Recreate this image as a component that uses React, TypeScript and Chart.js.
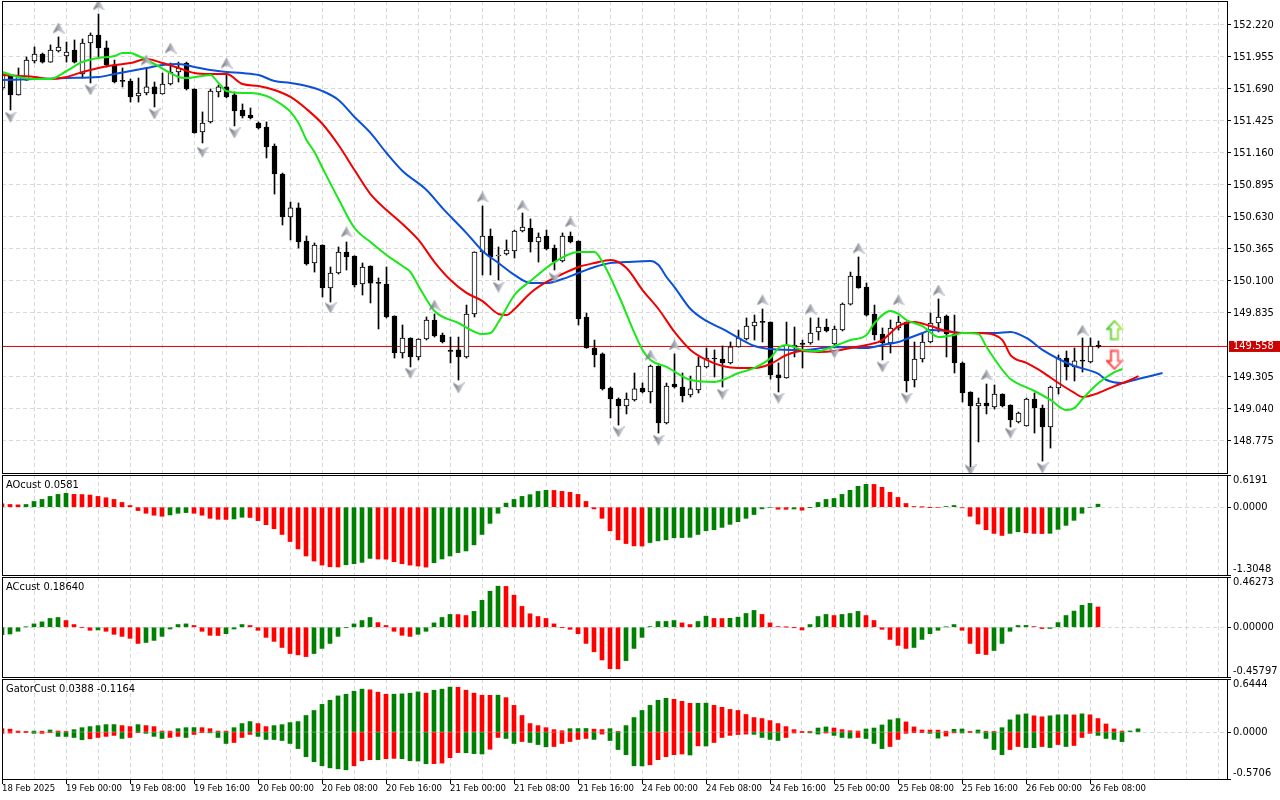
import React, { useEffect, useRef } from "react";
import { Chart, registerables } from "chart.js";

Chart.register(...registerables);

const FONT = "'Liberation Sans Narrow', 'DejaVu Sans Condensed', 'Liberation Sans', Arial, sans-serif";
const GRID = "#d8d8d8";
const GREEN = "#008000";
const RED = "#ff0000";
const JAW_COLOR = "#0a50d8";
const TEETH_COLOR = "#f00000";
const LIPS_COLOR = "#18e818";

// ---------- USDJPY H1 candles (bar index 0 = 18 Feb 2025 16:00) ----------
const opens = [
  151.698, 151.806, 151.641, 151.764, 151.922, 151.980, 151.913, 152.005, 151.963, 152.013,
  151.814, 152.071, 152.137, 152.030, 151.889, 151.756, 151.756, 151.632, 151.657, 151.707,
  151.649, 151.731, 151.831, 151.905, 151.690, 151.334, 151.417, 151.665, 151.707, 151.641,
  151.516, 151.475, 151.408, 151.375, 151.218, 150.986, 150.630, 150.705, 150.431, 150.249,
  150.398, 150.042, 150.166, 150.340, 150.307, 150.075, 150.224, 150.083, 150.075, 149.810,
  149.504, 149.628, 149.471, 149.620, 149.777, 149.653, 149.520, 149.529, 149.471, 149.827,
  150.340, 150.473, 150.307, 150.324, 150.349, 150.514, 150.539, 150.423, 150.473, 150.373,
  150.266, 150.473, 150.431, 149.802, 149.545, 149.496, 149.214, 149.123, 149.065, 149.115,
  149.214, 149.181, 149.396, 148.924, 149.247, 149.222, 149.156, 149.197, 149.388, 149.454,
  149.454, 149.421, 149.554, 149.620, 149.727, 149.760, 149.760, 149.322, 149.297, 149.554,
  149.578, 149.587, 149.678, 149.719, 149.578, 149.694, 149.909, 150.141, 150.050, 149.827,
  149.661, 149.587, 149.711, 149.760, 149.280, 149.454, 149.595, 149.752, 149.810, 149.661,
  149.421, 149.181, 149.065, 149.090, 149.057, 149.164, 149.073, 148.932, 148.899, 149.123,
  149.048, 148.891, 149.214, 149.462, 149.388, 149.438, 149.429, 149.560,
];
const highs = [
  151.830, 151.808, 151.864, 151.955, 152.038, 151.988, 152.055, 152.121, 152.079, 152.096,
  152.104, 152.154, 152.311, 152.087, 151.930, 151.864, 151.773, 151.781, 151.864, 151.748,
  151.822, 151.905, 151.913, 151.913, 151.692, 151.500, 151.690, 151.723, 151.822, 151.665,
  151.566, 151.533, 151.417, 151.417, 151.235, 150.994, 150.754, 150.746, 150.473, 150.415,
  150.400, 150.216, 150.382, 150.423, 150.309, 150.249, 150.226, 150.125, 150.216, 149.812,
  149.736, 149.630, 149.622, 149.802, 149.827, 149.669, 149.636, 149.636, 149.901, 150.342,
  150.721, 150.531, 150.382, 150.440, 150.522, 150.663, 150.614, 150.498, 150.522, 150.398,
  150.498, 150.506, 150.433, 149.835, 149.611, 149.504, 149.222, 149.131, 149.173, 149.338,
  149.255, 149.404, 149.398, 149.255, 149.496, 149.338, 149.313, 149.471, 149.545, 149.529,
  149.562, 149.595, 149.694, 149.794, 149.818, 149.868, 149.762, 149.421, 149.760, 149.719,
  149.611, 149.794, 149.794, 149.785, 149.727, 149.918, 150.174, 150.299, 150.083, 149.901,
  149.711, 149.777, 149.810, 149.762, 149.595, 149.669, 149.835, 149.951, 149.818, 149.818,
  149.429, 149.183, 149.131, 149.247, 149.239, 149.166, 149.075, 149.015, 149.131, 149.173,
  149.073, 149.230, 149.487, 149.520, 149.545, 149.628, 149.628, 149.603,
];
const lows = [
  151.682, 151.516, 151.639, 151.762, 151.905, 151.905, 151.911, 151.996, 151.913, 151.905,
  151.781, 151.740, 151.955, 151.872, 151.740, 151.707, 151.582, 151.582, 151.641, 151.541,
  151.647, 151.723, 151.748, 151.682, 151.324, 151.243, 151.408, 151.624, 151.616, 151.384,
  151.450, 151.442, 151.359, 151.119, 150.820, 150.564, 150.440, 150.373, 150.232, 150.174,
  149.968, 149.926, 150.158, 150.191, 150.050, 149.984, 149.918, 149.703, 149.794, 149.462,
  149.462, 149.388, 149.446, 149.611, 149.636, 149.587, 149.421, 149.280, 149.462, 149.802,
  150.150, 150.150, 150.108, 150.315, 150.290, 150.506, 150.340, 150.257, 150.357, 150.191,
  150.257, 150.415, 149.736, 149.543, 149.388, 149.197, 148.966, 148.907, 148.999, 149.106,
  149.173, 149.090, 148.841, 148.916, 149.214, 149.098, 149.139, 149.173, 149.380, 149.305,
  149.222, 149.413, 149.552, 149.611, 149.611, 149.595, 149.288, 149.181, 149.295, 149.471,
  149.380, 149.576, 149.611, 149.678, 149.545, 149.686, 149.901, 150.040, 149.810, 149.611,
  149.446, 149.504, 149.694, 149.181, 149.222, 149.429, 149.587, 149.678, 149.471, 149.338,
  149.098, 148.560, 148.767, 148.999, 149.040, 149.057, 148.891, 148.924, 148.897, 148.841,
  148.609, 148.717, 149.164, 149.280, 149.272, 149.346, 149.421, 149.545,
];
const closes = [
  151.814, 151.641, 151.797, 151.930, 151.980, 151.913, 152.013, 152.038, 151.996, 151.913,
  152.071, 152.137, 152.030, 151.889, 151.748, 151.753, 151.624, 151.657, 151.707, 151.649,
  151.731, 151.831, 151.864, 151.690, 151.326, 151.408, 151.673, 151.707, 151.624, 151.508,
  151.466, 151.450, 151.367, 151.210, 150.986, 150.630, 150.705, 150.423, 150.241, 150.398,
  150.042, 150.166, 150.340, 150.299, 150.067, 150.216, 150.083, 150.080, 149.802, 149.504,
  149.628, 149.471, 149.620, 149.777, 149.645, 149.595, 149.517, 149.471, 149.827, 150.340,
  150.473, 150.299, 150.315, 150.357, 150.514, 150.547, 150.423, 150.464, 150.365, 150.257,
  150.473, 150.423, 149.785, 149.545, 149.487, 149.206, 149.123, 149.065, 149.123, 149.206,
  149.181, 149.396, 148.924, 149.230, 149.222, 149.148, 149.206, 149.396, 149.462, 149.457,
  149.421, 149.554, 149.628, 149.727, 149.760, 149.757, 149.322, 149.297, 149.570, 149.570,
  149.575, 149.669, 149.719, 149.686, 149.702, 149.909, 150.141, 150.042, 149.818, 149.653,
  149.587, 149.711, 149.760, 149.272, 149.454, 149.595, 149.752, 149.802, 149.661, 149.421,
  149.173, 149.065, 149.090, 149.065, 149.164, 149.065, 148.949, 149.007, 149.123, 149.048,
  148.891, 149.222, 149.462, 149.388, 149.438, 149.436, 149.562, 149.558,
];

const currentPrice = 149.558;

// ---------- Alligator lines: [bar index, price] (shifted forward past last bar) ----------
const jawPts = [
  [0, 151.764], [4, 151.772], [8, 151.781], [12, 151.789], [14, 151.814], [16, 151.839], [18, 151.864],
  [20, 151.889], [22, 151.897], [24, 151.872], [26, 151.847], [28, 151.831], [30, 151.822], [32, 151.806],
  [34, 151.756], [36, 151.740], [38, 151.715], [40, 151.673], [42, 151.599], [44, 151.458], [46, 151.326],
  [48, 151.160], [50, 151.011], [53, 150.854], [55, 150.704], [58, 150.497], [60, 150.349], [62, 150.249],
  [64, 150.150], [66, 150.083], [68, 150.083], [70, 150.116], [72, 150.166], [74, 150.216], [76, 150.249],
  [78, 150.257], [81, 150.266], [82, 150.232], [83, 150.133], [84, 150.050], [86, 149.868], [88, 149.769],
  [90, 149.703], [92, 149.628], [94, 149.562], [96, 149.537], [100, 149.529], [104, 149.554], [108, 149.545],
  [110, 149.570], [112, 149.595], [113, 149.620], [115, 149.669], [116, 149.694], [118, 149.686],
  [120, 149.669], [124, 149.669], [126, 149.678], [128, 149.628], [130, 149.529], [132, 149.454],
  [134, 149.396], [137, 149.330], [138, 149.280], [140, 149.255], [141, 149.272], [143, 149.305], [145, 149.338],
];
const teethPts = [
  [0, 151.806], [4, 151.789], [6, 151.773], [8, 151.789], [10, 151.831], [12, 151.864], [14, 151.889],
  [16, 151.905], [18, 151.938], [20, 151.905], [22, 151.864], [24, 151.822], [26, 151.814], [28, 151.814],
  [30, 151.731], [32, 151.715], [34, 151.682], [36, 151.624], [38, 151.524], [40, 151.400], [42, 151.226],
  [44, 151.019], [46, 150.820], [48, 150.688], [50, 150.572], [52, 150.440], [54, 150.257], [56, 150.108],
  [58, 150.001], [60, 149.934], [62, 149.827], [63, 149.818], [64, 149.868], [66, 150.001], [68, 150.092],
  [70, 150.158], [72, 150.216], [74, 150.249], [76, 150.274], [78, 150.208], [80, 150.025], [82, 149.868],
  [84, 149.678], [86, 149.529], [88, 149.446], [90, 149.396], [92, 149.380], [94, 149.380], [96, 149.413],
  [98, 149.487], [100, 149.520], [102, 149.512], [104, 149.520], [106, 149.545], [108, 149.570],
  [110, 149.611], [111, 149.669], [112, 149.727], [114, 149.760], [116, 149.727], [118, 149.686],
  [120, 149.669], [122, 149.669], [124, 149.653], [125, 149.611], [126, 149.487], [128, 149.421],
  [130, 149.346], [132, 149.255], [134, 149.173], [135, 149.139], [137, 149.173], [139, 149.230],
  [141, 149.280], [142, 149.313],
];
const lipsPts = [
  [0, 151.831], [2, 151.789], [4, 151.773], [6, 151.773], [8, 151.839], [10, 151.914], [12, 151.947],
  [14, 151.963], [15, 151.988], [16, 151.988], [17, 151.963], [19, 151.897], [21, 151.822], [22, 151.789],
  [23, 151.781], [25, 151.798], [26, 151.806], [27, 151.740], [28, 151.673], [30, 151.657], [31, 151.657],
  [33, 151.632], [34, 151.599], [36, 151.500], [37, 151.408], [38, 151.268], [39, 151.168], [40, 151.036],
  [42, 150.779], [44, 150.539], [46, 150.423], [48, 150.315], [50, 150.224], [51, 150.174], [52, 150.059],
  [54, 149.852], [57, 149.752], [60, 149.661], [61, 149.669], [62, 149.760], [64, 149.984], [66, 150.100],
  [69, 150.257], [72, 150.340], [74, 150.340], [75, 150.257], [77, 149.984], [79, 149.669], [80, 149.529],
  [81, 149.446], [83, 149.388], [86, 149.280], [89, 149.264], [90, 149.280], [92, 149.338], [94, 149.380],
  [96, 149.462], [97, 149.545], [98, 149.570], [100, 149.529], [102, 149.520], [104, 149.562],
  [106, 149.611], [108, 149.653], [109, 149.752], [111, 149.852], [112, 149.827], [113, 149.777],
  [115, 149.727], [117, 149.636], [119, 149.653], [120, 149.669], [122, 149.661], [123, 149.554],
  [125, 149.363], [126, 149.289], [129, 149.189], [131, 149.115], [133, 149.032], [134, 149.049],
  [135, 149.123], [137, 149.255], [139, 149.346], [140, 149.371],
];

// ---------- Fractals ----------
const fractalUpBars = [7, 12, 18, 21, 28, 43, 54, 60, 65, 71, 81, 84, 95, 101, 107, 112, 117, 123, 135];
const fractalUpPrices = [152.195, 152.386, 151.930, 152.029, 151.905, 150.506, 149.901, 150.796, 150.729, 150.589, 149.487, 149.570, 149.943, 149.868, 150.373, 149.943, 150.025, 149.322, 149.694];
const fractalDownBars = [1, 11, 19, 25, 29, 41, 51, 57, 62, 69, 77, 82, 90, 97, 104, 110, 113, 121, 126, 130];
const fractalDownPrices = [151.458, 151.682, 151.483, 151.168, 151.326, 149.877, 149.338, 149.214, 150.050, 150.125, 148.850, 148.783, 149.164, 149.131, 149.504, 149.388, 149.131, 148.535, 148.841, 148.552];

// ---------- Signal arrows ----------
const signalBars = [139];
const signalUpPrices = [149.694];
const signalDownPrices = [149.446];

// ---------- Price axis ----------
const priceTicks = [148.775, 149.040, 149.305, 149.835, 150.100, 150.365, 150.630, 150.895, 151.160, 151.425, 151.690, 151.955, 152.220];

// ---------- Time axis ----------
const timeTickBars = [0, 8, 16, 24, 32, 40, 48, 56, 64, 72, 80, 88, 96, 104, 112, 120, 128, 136];
const timeTickLabels = [
  "18 Feb 2025", "19 Feb 00:00", "19 Feb 08:00", "19 Feb 16:00", "20 Feb 00:00", "20 Feb 08:00",
  "20 Feb 16:00", "21 Feb 00:00", "21 Feb 08:00", "21 Feb 16:00", "24 Feb 00:00", "24 Feb 08:00",
  "24 Feb 16:00", "25 Feb 00:00", "25 Feb 08:00", "25 Feb 16:00", "26 Feb 00:00", "26 Feb 08:00",
];

// ---------- AO custom ----------
const aoValues = [
  0.065, 0.052, 0.045, 0.052, 0.110, 0.149, 0.207, 0.246, 0.266, 0.246,
  0.243, 0.233, 0.207, 0.181, 0.149, 0.091, 0.032, -0.065, -0.117, -0.155,
  -0.175, -0.149, -0.117, -0.104, -0.117, -0.155, -0.214, -0.233, -0.236, -0.227,
  -0.194, -0.198, -0.259, -0.337, -0.415, -0.525, -0.661, -0.803, -0.939, -1.036,
  -1.114, -1.146, -1.150, -1.108, -1.088, -1.062, -0.985, -0.997, -1.000, -1.049,
  -1.088, -1.114, -1.133, -1.153, -1.069, -0.997, -0.939, -0.874, -0.842, -0.725,
  -0.525, -0.311, -0.117, 0.078, 0.149, 0.207, 0.240, 0.304, 0.324, 0.322,
  0.304, 0.285, 0.246, 0.110, -0.032, -0.214, -0.453, -0.628, -0.700, -0.745,
  -0.748, -0.680, -0.648, -0.628, -0.589, -0.585, -0.580, -0.525, -0.453, -0.434,
  -0.389, -0.330, -0.279, -0.214, -0.142, -0.032, -0.010, -0.039, -0.041, -0.035,
  -0.058, -0.005, 0.091, 0.149, 0.168, 0.246, 0.324, 0.402, 0.440, 0.438,
  0.382, 0.285, 0.188, 0.071, 0.013, 0.002, -0.004, -0.010, 0.013, 0.032,
  -0.013, -0.175, -0.324, -0.434, -0.505, -0.544, -0.505, -0.473, -0.492, -0.505,
  -0.508, -0.503, -0.427, -0.350, -0.253, -0.117, -0.010, 0.0581,
];
const aoMin = -1.3048;
const aoMax = 0.6191;

// ---------- AC custom ----------
const acValues = [
  -0.068, -0.062, -0.037, 0.003, 0.031, 0.050, 0.081, 0.090, 0.062, 0.025,
  -0.003, -0.028, -0.025, -0.037, -0.065, -0.084, -0.102, -0.149, -0.140, -0.121,
  -0.084, -0.016, 0.025, 0.031, 0.016, -0.037, -0.074, -0.076, -0.059, -0.016,
  0.025, 0.016, -0.028, -0.093, -0.130, -0.186, -0.242, -0.254, -0.270, -0.242,
  -0.195, -0.149, -0.084, -0.003, 0.031, 0.062, 0.090, 0.043, 0.016, -0.037,
  -0.074, -0.084, -0.065, -0.037, 0.040, 0.090, 0.118, 0.117, 0.108, 0.146,
  0.248, 0.332, 0.378, 0.376, 0.295, 0.192, 0.124, 0.099, 0.081, 0.031,
  -0.002, -0.019, -0.059, -0.149, -0.226, -0.301, -0.381, -0.383, -0.307, -0.195,
  -0.093, 0.006, 0.053, 0.054, 0.062, 0.040, 0.025, 0.053, 0.102, 0.081,
  0.080, 0.082, 0.093, 0.127, 0.155, 0.118, 0.040, 0.006, 0.001, -0.002,
  -0.025, 0.025, 0.099, 0.118, 0.108, 0.118, 0.127, 0.146, 0.108, 0.062,
  -0.019, -0.112, -0.167, -0.195, -0.186, -0.112, -0.059, -0.028, 0.003, 0.025,
  -0.028, -0.149, -0.242, -0.251, -0.214, -0.149, -0.037, 0.016, 0.017, 0.006,
  -0.012, -0.011, 0.043, 0.108, 0.149, 0.202, 0.220, 0.1864,
];
const acMin = -0.45797;
const acMax = 0.46273;

// ---------- Gator custom ----------
const gatorUpper = [
  0.041, 0.035, 0.012, 0.008, 0.012, 0.010, 0.025, 0.012, 0.004, 0.029,
  0.053, 0.066, 0.078, 0.090, 0.091, 0.078, 0.066, 0.090, 0.078, 0.066,
  0.012, 0.011, 0.041, 0.053, 0.054, 0.053, 0.041, 0.012, 0.011, 0.053,
  0.103, 0.127, 0.103, 0.066, 0.078, 0.090, 0.115, 0.127, 0.201, 0.262,
  0.336, 0.386, 0.439, 0.459, 0.496, 0.521, 0.513, 0.484, 0.459, 0.460,
  0.464, 0.472, 0.488, 0.472, 0.508, 0.521, 0.546, 0.544, 0.508, 0.472,
  0.447, 0.446, 0.448, 0.418, 0.324, 0.201, 0.103, 0.078, 0.053, 0.029,
  0.016, 0.041, 0.042, 0.043, 0.035, 0.030, 0.041, 0.004, 0.078, 0.176,
  0.262, 0.324, 0.386, 0.410, 0.398, 0.373, 0.349, 0.350, 0.351, 0.324,
  0.300, 0.275, 0.262, 0.213, 0.176, 0.164, 0.139, 0.103, 0.066, 0.029,
  0.004, 0.002, 0.049, 0.062, 0.049, 0.029, 0.016, 0.012, 0.037, 0.049,
  0.086, 0.148, 0.164, 0.123, 0.062, 0.025, 0.024, 0.023, 0.010, 0.033,
  0.037, 0.008, 0.025, 0.004, 0.003, 0.053, 0.148, 0.209, 0.221, 0.197,
  0.185, 0.197, 0.209, 0.210, 0.208, 0.221, 0.209, 0.164, 0.098, 0.037,
  0.012, 0.013, 0.0388,
];
const gatorLower = [
  -0.016, -0.012, -0.008, -0.005, -0.016, -0.016, -0.008, -0.053, -0.054, -0.066,
  -0.094, -0.082, -0.066, -0.053, -0.041, -0.078, -0.066, -0.008, -0.016, -0.053,
  -0.078, -0.066, -0.053, -0.066, -0.029, -0.008, -0.010, -0.066, -0.139, -0.127,
  -0.066, -0.029, -0.053, -0.090, -0.091, -0.103, -0.139, -0.201, -0.300, -0.360,
  -0.410, -0.435, -0.447, -0.459, -0.410, -0.349, -0.336, -0.337, -0.324, -0.320,
  -0.324, -0.349, -0.353, -0.385, -0.384, -0.377, -0.312, -0.250, -0.252, -0.262,
  -0.267, -0.209, -0.066, -0.078, -0.139, -0.115, -0.127, -0.152, -0.180, -0.176,
  -0.139, -0.115, -0.090, -0.078, -0.090, -0.025, -0.103, -0.213, -0.275, -0.410,
  -0.412, -0.398, -0.336, -0.300, -0.275, -0.267, -0.279, -0.168, -0.170, -0.127,
  -0.066, -0.041, -0.030, -0.025, -0.028, -0.066, -0.090, -0.103, -0.066, -0.012,
  -0.008, -0.010, -0.025, -0.012, -0.041, -0.066, -0.074, -0.066, -0.078, -0.139,
  -0.201, -0.176, -0.090, -0.016, -0.008, -0.004, -0.016, -0.074, -0.049, -0.010,
  -0.012, -0.005, -0.012, -0.078, -0.213, -0.275, -0.213, -0.176, -0.189, -0.190,
  -0.176, -0.189, -0.152, -0.176, -0.164, -0.066, -0.016, -0.041, -0.078, -0.090,
  -0.1164,
];
const gatorMin = -0.5706;
const gatorMax = 0.6444;

// ---------- geometry of the MT-style window ----------
const W = 1280;
const AXIS_W = 53;
const BAR_PX = 8;
const PLOT_W = W - AXIS_W - 2; // 1225
const X_RANGE = PLOT_W / BAR_PX;
const MAIN_X_MIN = -0.0625;
const SUB_X_MIN = 0;
const MAIN_Y_MAX = 152.4187;
const MAIN_Y_MIN = 148.51;
const gridBars = Array.from({ length: 39 }, (_, k) => k * 4);

const framePlugin = {
  id: "mtFrame",
  afterDraw(chart: any) {
    const { ctx, chartArea: a } = chart;
    ctx.save();
    ctx.strokeStyle = "#000";
    ctx.lineWidth = 1;
    ctx.setLineDash([]);
    ctx.strokeRect(a.left + 0.5, a.top + 0.5, a.right - a.left, a.bottom - a.top);
    ctx.restore();
  },
};

function zeroPadding(s: any) {
  s.paddingTop = 0;
  s.paddingBottom = 0;
  s.paddingLeft = 0;
  s.paddingRight = 0;
}

function makeFractalImg(up: boolean) {
  const c = document.createElement("canvas");
  c.width = 12;
  c.height = 11;
  const g = c.getContext("2d") as CanvasRenderingContext2D;
  g.translate(6, 5.5);
  if (!up) g.scale(1, -1);
  g.beginPath();
  g.moveTo(0, -5);
  g.lineTo(5.5, 5);
  g.lineTo(0, 2);
  g.lineTo(-5.5, 5);
  g.closePath();
  const grad = g.createLinearGradient(-5, 0, 5, 0);
  grad.addColorStop(0, "#6a6f7a");
  grad.addColorStop(0.5, "#a4a8b2");
  grad.addColorStop(1, "#e6e8ef");
  g.fillStyle = grad;
  g.fill();
  g.strokeStyle = "rgba(120,125,135,0.5)";
  g.lineWidth = 0.8;
  g.stroke();
  return c;
}

function makeSignalImg(up: boolean) {
  const c = document.createElement("canvas");
  c.width = 18;
  c.height = 21;
  const g = c.getContext("2d") as CanvasRenderingContext2D;
  if (!up) {
    g.translate(0, 21);
    g.scale(1, -1);
  }
  g.beginPath();
  g.moveTo(9, 1.5);
  g.lineTo(16.5, 9.5);
  g.lineTo(12.5, 9.5);
  g.lineTo(12.5, 19.5);
  g.lineTo(5.5, 19.5);
  g.lineTo(5.5, 9.5);
  g.lineTo(1.5, 9.5);
  g.closePath();
  g.fillStyle = "#ffffff";
  g.fill();
  const grad = g.createLinearGradient(0, 0, 18, 0);
  if (up) {
    grad.addColorStop(0, "#3cc83c");
    grad.addColorStop(1, "#c8f05a");
  } else {
    grad.addColorStop(0, "#ff2a2a");
    grad.addColorStop(1, "#ff8a8a");
  }
  g.strokeStyle = grad;
  g.lineWidth = 2;
  g.lineJoin = "miter";
  g.stroke();
  return c;
}

function trendColors(values: number[], firstUp: boolean, useAbs: boolean) {
  return values.map((v, i) => {
    if (i === 0) return firstUp ? GREEN : RED;
    const a = useAbs ? Math.abs(v) : v;
    const b = useAbs ? Math.abs(values[i - 1]) : values[i - 1];
    return a > b ? GREEN : RED;
  });
}

const baseOptions = {
  responsive: false,
  maintainAspectRatio: false,
  animation: false,
  devicePixelRatio: 1,
  events: [],
  plugins: { legend: { display: false }, tooltip: { enabled: false }, title: { display: false } },
};

function xScale(min: number, showLabels: boolean) {
  return {
    type: "linear",
    min,
    max: min + X_RANGE,
    offset: false,
    bounds: "data",
    afterBuildTicks: (s: any) => {
      s.ticks = gridBars.map((v) => ({ value: v }));
    },
    afterFit: (s: any) => {
      s.height = showLabels ? 21 : 0;
      zeroPadding(s);
    },
    ticks: showLabels
      ? {
          display: true,
          autoSkip: false,
          maxRotation: 0,
          minRotation: 0,
          align: "start",
          padding: -1,
          color: "#000",
          font: { family: FONT, size: 9.5, lineHeight: 1.1 },
          callback: (v: any) => {
            const k = timeTickBars.indexOf(Number(v));
            return k >= 0 ? timeTickLabels[k] : "";
          },
        }
      : { display: false },
    grid: {
      offset: false,
      color: GRID,
      lineWidth: 1,
      drawTicks: showLabels,
      tickLength: 5,
      tickWidth: 1,
      tickColor: (c: any) => (c.tick && timeTickBars.indexOf(c.tick.value) >= 0 ? "#000" : "rgba(0,0,0,0)"),
    },
    border: { display: false, dash: [4, 3] },
  };
}

function subYScale(min: number, max: number, decimals: number) {
  return {
    type: "linear",
    position: "right",
    min,
    max,
    afterFit: (s: any) => {
      s.width = AXIS_W;
      zeroPadding(s);
    },
    afterBuildTicks: (s: any) => {
      s.ticks = [{ value: min }, { value: 0 }, { value: max }];
    },
    ticks: {
      autoSkip: false,
      padding: 2,
      color: "#000",
      font: { family: FONT, size: 11, lineHeight: 1 },
      callback: (v: any) => {
        const t = Number(v).toFixed(decimals);
        if (v === max) return ["", t];
        if (v === min) return [t, ""];
        return t;
      },
    },
    grid: {
      color: (c: any) => (c.tick && c.tick.value === 0 ? GRID : "rgba(0,0,0,0)"),
      tickColor: "#000",
      tickLength: 4,
      drawTicks: true,
    },
    border: { display: false, dash: [4, 3] },
  };
}

export default function App() {
  const mainRef = useRef<HTMLCanvasElement>(null);
  const aoRef = useRef<HTMLCanvasElement>(null);
  const acRef = useRef<HTMLCanvasElement>(null);
  const gatorRef = useRef<HTMLCanvasElement>(null);

  useEffect(() => {
    document.body.style.margin = "0";
    document.body.style.background = "#fff";
    const charts: Chart[] = [];

    const upImg = makeFractalImg(true);
    const downImg = makeFractalImg(false);
    const sigUp = makeSignalImg(true);
    const sigDown = makeSignalImg(false);

    const idx = opens.map((_, i) => i);
    const bodyColors = idx.map((i) => {
      const d = closes[i] - opens[i];
      if (Math.abs(d) < 0.004) return "#000";
      return d > 0 ? "#fff" : "#000";
    });

    const toXY = (pts: number[][]) => pts.map(([x, y]) => ({ x, y }));

    // ---------- main price chart ----------
    charts.push(
      new Chart(mainRef.current as HTMLCanvasElement, {
        type: "bar",
        data: {
          datasets: [
            {
              type: "line",
              label: "signal up",
              data: signalBars.map((b, k) => ({ x: b, y: signalUpPrices[k] })),
              showLine: false,
              pointStyle: sigUp,
              pointRadius: 6,
              order: 0,
            },
            {
              type: "line",
              label: "signal down",
              data: signalBars.map((b, k) => ({ x: b, y: signalDownPrices[k] })),
              showLine: false,
              pointStyle: sigDown,
              pointRadius: 6,
              order: 0,
            },
            {
              type: "line",
              label: "fractal up",
              data: fractalUpBars.map((b, k) => ({ x: b, y: fractalUpPrices[k] })),
              showLine: false,
              pointStyle: upImg,
              pointRadius: 5,
              order: 1,
            },
            {
              type: "line",
              label: "fractal down",
              data: fractalDownBars.map((b, k) => ({ x: b, y: fractalDownPrices[k] })),
              showLine: false,
              pointStyle: downImg,
              pointRadius: 5,
              order: 1,
            },
            {
              type: "line",
              label: "lips",
              data: toXY(lipsPts),
              borderColor: LIPS_COLOR,
              borderWidth: 2,
              pointRadius: 0,
              cubicInterpolationMode: "monotone",
              order: 2,
            },
            {
              type: "line",
              label: "teeth",
              data: toXY(teethPts),
              borderColor: TEETH_COLOR,
              borderWidth: 2,
              pointRadius: 0,
              cubicInterpolationMode: "monotone",
              order: 3,
            },
            {
              type: "line",
              label: "jaw",
              data: toXY(jawPts),
              borderColor: JAW_COLOR,
              borderWidth: 2,
              pointRadius: 0,
              cubicInterpolationMode: "monotone",
              order: 4,
            },
            {
              type: "bar",
              label: "body",
              data: idx.map((i) => ({ x: i, y: [opens[i], closes[i]] })),
              backgroundColor: bodyColors,
              borderColor: "#000",
              borderWidth: 1,
              borderSkipped: false,
              barThickness: 5,
              minBarLength: 1,
              grouped: false,
              order: 5,
            },
            {
              type: "bar",
              label: "wick",
              data: idx.map((i) => ({ x: i, y: [lows[i], highs[i]] })),
              backgroundColor: "#000",
              borderWidth: 0,
              barThickness: 1,
              grouped: false,
              order: 6,
            },
            {
              type: "line",
              label: "bid",
              data: [
                { x: MAIN_X_MIN, y: currentPrice },
                { x: MAIN_X_MIN + X_RANGE, y: currentPrice },
              ],
              borderColor: "#dd0000",
              borderWidth: 1,
              pointRadius: 0,
              order: 7,
            },
          ],
        },
        options: {
          ...baseOptions,
          layout: { autoPadding: false, padding: { left: 2, top: 1, right: 0, bottom: 2 } },
          scales: {
            x: xScale(MAIN_X_MIN, false),
            y: {
              type: "linear",
              position: "right",
              min: MAIN_Y_MIN,
              max: MAIN_Y_MAX,
              afterFit: (s: any) => {
                s.width = AXIS_W;
                zeroPadding(s);
              },
              afterBuildTicks: (s: any) => {
                s.ticks = [...priceTicks, currentPrice].sort((a, b) => a - b).map((v) => ({ value: v }));
              },
              ticks: {
                autoSkip: false,
                padding: 2,
                font: { family: FONT, size: 11, lineHeight: 1 },
                color: (c: any) => (c.tick && c.tick.value === currentPrice ? "#fff" : "#000"),
                callback: (v: any) => Number(v).toFixed(3),
                showLabelBackdrop: (c: any) => !!(c.tick && c.tick.value === currentPrice),
                backdropColor: "#cc0000",
                backdropPadding: { left: 4, right: 9, top: 0, bottom: 0 },
              },
              grid: {
                color: (c: any) => (c.tick && c.tick.value === currentPrice ? "rgba(0,0,0,0)" : GRID),
                tickColor: (c: any) => (c.tick && c.tick.value === currentPrice ? "rgba(0,0,0,0)" : "#000"),
                tickLength: 4,
                drawTicks: true,
              },
              border: { display: false, dash: [4, 3] },
            },
          },
        },
        plugins: [framePlugin],
      } as any)
    );

    // ---------- AO ----------
    const aoColors = trendColors(aoValues, false, false);
    charts.push(
      new Chart(aoRef.current as HTMLCanvasElement, {
        type: "bar",
        data: {
          datasets: [
            {
              label: "AOcust",
              data: aoValues.map((v, i) => ({ x: i, y: v })),
              backgroundColor: aoColors,
              borderWidth: 0,
              barThickness: 4,
              grouped: false,
            },
          ],
        },
        options: {
          ...baseOptions,
          layout: { autoPadding: false, padding: { left: 2, top: 0, right: 0, bottom: 1 } },
          scales: { x: xScale(SUB_X_MIN, false), y: subYScale(aoMin, aoMax, 4) },
        },
        plugins: [framePlugin],
      } as any)
    );

    // ---------- AC ----------
    const acColors = trendColors(acValues, true, false);
    charts.push(
      new Chart(acRef.current as HTMLCanvasElement, {
        type: "bar",
        data: {
          datasets: [
            {
              label: "ACcust",
              data: acValues.map((v, i) => ({ x: i, y: v })),
              backgroundColor: acColors,
              borderWidth: 0,
              barThickness: 4,
              grouped: false,
            },
          ],
        },
        options: {
          ...baseOptions,
          layout: { autoPadding: false, padding: { left: 2, top: 0, right: 0, bottom: 1 } },
          scales: { x: xScale(SUB_X_MIN, false), y: subYScale(acMin, acMax, 5) },
        },
        plugins: [framePlugin],
      } as any)
    );

    // ---------- Gator ----------
    const upColors = trendColors(gatorUpper, false, true);
    const loColors = trendColors(gatorLower, false, true);
    charts.push(
      new Chart(gatorRef.current as HTMLCanvasElement, {
        type: "bar",
        data: {
          datasets: [
            {
              label: "Gator upper",
              data: gatorUpper.map((v, i) => ({ x: i, y: v })),
              backgroundColor: upColors,
              borderWidth: 0,
              barThickness: 4,
              grouped: false,
            },
            {
              label: "Gator lower",
              data: gatorLower.map((v, i) => ({ x: i, y: v })),
              backgroundColor: loColors,
              borderWidth: 0,
              barThickness: 4,
              grouped: false,
            },
          ],
        },
        options: {
          ...baseOptions,
          layout: { autoPadding: false, padding: { left: 2, top: 0, right: 0, bottom: 0 } },
          scales: { x: xScale(SUB_X_MIN, true), y: subYScale(gatorMin, gatorMax, 4) },
        },
        plugins: [framePlugin],
      } as any)
    );

    return () => {
      charts.forEach((c) => c.destroy());
    };
  }, []);

  const labelStyle: React.CSSProperties = {
    position: "absolute",
    left: 6,
    font: `11px ${FONT}`,
    lineHeight: "11px",
    color: "#000",
    whiteSpace: "nowrap",
    pointerEvents: "none",
  };

  const aoLabel = `AOcust ${aoValues[aoValues.length - 1].toFixed(4)}`;
  const acLabel = `ACcust ${acValues[acValues.length - 1].toFixed(5)}`;
  const gatorLabel = `GatorCust ${gatorUpper[gatorUpper.length - 1].toFixed(4)} ${gatorLower[gatorLower.length - 1].toFixed(4)}`;

  return (
    <div style={{ position: "relative", width: 1280, height: 800, background: "#fff", overflow: "hidden" }}>
      <canvas ref={mainRef} width={1280} height={475} style={{ position: "absolute", left: 0, top: 0, width: 1280, height: 475 }} />
      <canvas ref={aoRef} width={1280} height={101} style={{ position: "absolute", left: 0, top: 475, width: 1280, height: 101 }} />
      <canvas ref={acRef} width={1280} height={101} style={{ position: "absolute", left: 0, top: 577, width: 1280, height: 101 }} />
      <canvas ref={gatorRef} width={1280} height={121} style={{ position: "absolute", left: 0, top: 679, width: 1280, height: 121 }} />
      <div style={{ ...labelStyle, top: 479 }}>{aoLabel}</div>
      <div style={{ ...labelStyle, top: 581 }}>{acLabel}</div>
      <div style={{ ...labelStyle, top: 683 }}>{gatorLabel}</div>
    </div>
  );
}
